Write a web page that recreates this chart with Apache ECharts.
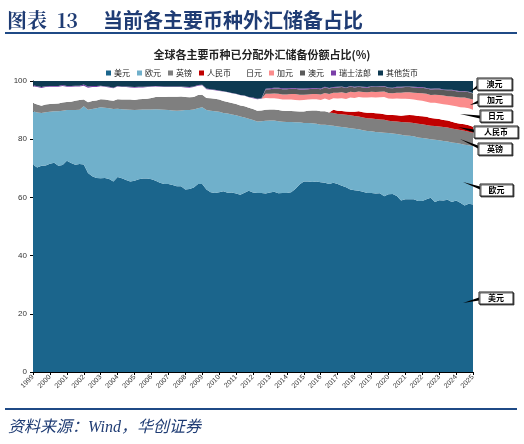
<!DOCTYPE html>
<html>
<head>
<meta charset="utf-8">
<script src="https://cdn.jsdelivr.net/npm/echarts@6/dist/echarts.min.js"></script>
<style>
  html, body { margin: 0; padding: 0; background: #fff; }
  #chart { width: 524px; height: 444px; }
</style>
</head>
<body>
<div id="chart"></div>
<script>
// quarterly shares (%), 1999Q1 - 2025Q1
const years = ["1999", "2000", "2001", "2002", "2003", "2004", "2005", "2006", "2007",
  "2008", "2009", "2010", "2011", "2012", "2013", "2014", "2015", "2016", "2017",
  "2018", "2019", "2020", "2021", "2022", "2023", "2024", "2025"];
const quarters = ["Q1", "Q2", "Q3", "Q4"];

const usd = [
  71.2, 70.3, 70.9, 71.0, 71.6, 71.9, 70.9, 71.1, 72.6, 71.8, 71.2, 71.5,
  71.3, 68.4, 67.3, 66.7, 66.6, 66.7, 66.3, 65.5, 67.0, 66.6, 66.0, 65.5,
  65.7, 66.2, 66.5, 66.5, 66.2, 65.7, 65.0, 64.6, 64.6, 64.3, 63.8, 63.8,
  62.7, 62.9, 63.4, 64.6, 64.6, 62.7, 61.8, 61.5, 61.8, 62.1, 61.6, 61.7,
  61.3, 60.9, 61.6, 62.3, 61.7, 61.5, 61.5, 61.3, 61.7, 61.9, 61.4, 61.5,
  61.5, 61.8, 62.9, 64.4, 65.5, 65.5, 65.3, 65.5, 65.2, 65.0, 64.6, 65.0,
  64.6, 64.0, 63.5, 62.7, 62.5, 62.3, 61.9, 61.5, 61.5, 61.3, 61.4, 60.4,
  61.1, 61.2, 60.5, 58.9, 59.4, 59.4, 59.4, 58.8, 58.8, 59.4, 59.9, 58.4,
  59.0, 58.9, 59.2, 58.4, 58.9, 58.2, 57.2, 57.8, 57.6,
];
const eur = [
  18.4, 18.9, 18.1, 18.3, 17.8, 17.7, 18.7, 18.7, 17.4, 18.2, 18.8, 18.6,
  20.0, 21.7, 23.1, 23.9, 24.4, 24.1, 24.3, 24.9, 23.5, 23.7, 24.2, 24.6,
  24.3, 23.9, 23.7, 23.7, 24.0, 24.6, 25.2, 25.5, 25.4, 25.6, 26.0, 26.1,
  27.3, 27.1, 26.8, 26.0, 26.4, 27.3, 28.0, 28.1, 27.6, 26.9, 27.2, 26.8,
  26.9, 26.9, 25.9, 24.7, 24.9, 24.6, 24.7, 25.0, 24.7, 24.5, 24.8, 24.5,
  24.4, 24.1, 22.9, 21.4, 20.1, 20.1, 20.2, 19.8, 19.8, 20.0, 20.2, 19.6,
  19.8, 20.2, 20.5, 21.1, 21.1, 21.1, 21.2, 21.3, 21.2, 21.2, 21.0, 21.8,
  21.0, 20.8, 21.3, 22.6, 21.9, 21.8, 21.6, 21.8, 21.6, 20.8, 20.1, 21.4,
  20.6, 20.5, 20.0, 20.5, 19.8, 20.2, 20.9, 20.1, 20.0,
];
const gbp = [
  2.8, 2.7, 2.5, 2.6, 2.7, 2.6, 2.7, 2.8, 2.8, 2.9, 3.2, 3.4,
  2.3, 2.6, 2.7, 2.7, 2.7, 2.8, 2.8, 2.8, 3.2, 3.3, 3.4, 3.5,
  3.5, 3.6, 3.6, 3.7, 4.0, 4.2, 4.3, 4.4, 4.6, 4.7, 4.8, 4.8,
  4.5, 4.4, 4.3, 4.6, 4.3, 4.2, 4.3, 4.3, 4.2, 4.1, 4.0, 3.9,
  3.9, 3.8, 3.8, 3.8, 3.8, 3.7, 3.7, 3.8, 3.8, 3.8, 3.8, 3.8,
  3.8, 3.8, 3.8, 3.7, 3.9, 4.2, 4.4, 4.6, 4.6, 4.6, 4.4, 4.4,
  4.3, 4.4, 4.4, 4.4, 4.4, 4.4, 4.4, 4.4, 4.4, 4.4, 4.4, 4.5,
  4.2, 4.2, 4.3, 4.4, 4.5, 4.5, 4.6, 4.7, 4.7, 4.7, 4.6, 4.7,
  4.8, 4.8, 4.8, 4.8, 4.7, 4.8, 4.8, 4.7, 4.6,
];
const rmb = [
  0, 0, 0, 0, 0, 0, 0, 0, 0, 0, 0, 0,
  0, 0, 0, 0, 0, 0, 0, 0, 0, 0, 0, 0,
  0, 0, 0, 0, 0, 0, 0, 0, 0, 0, 0, 0,
  0, 0, 0, 0, 0, 0, 0, 0, 0, 0, 0, 0,
  0, 0, 0, 0, 0, 0, 0, 0, 0, 0, 0, 0,
  0, 0, 0, 0, 0, 0, 0, 0, 0, 0, 0, 1.1,
  1.1, 1.1, 1.1, 1.2, 1.4, 1.8, 1.8, 1.9, 2.0, 2.0, 2.0, 1.9,
  2.0, 2.1, 2.1, 2.2, 2.4, 2.6, 2.6, 2.7, 2.8, 2.8, 2.7, 2.6,
  2.5, 2.4, 2.4, 2.3, 2.2, 2.1, 2.2, 2.2, 2.1,
];
const jpy = [
  5.8, 6.0, 6.1, 6.0, 5.9, 5.8, 5.7, 5.7, 5.2, 5.1, 4.9, 4.6,
  4.8, 5.0, 4.8, 4.6, 4.5, 4.4, 4.4, 4.3, 4.4, 4.3, 4.3, 4.2,
  4.2, 4.1, 4.0, 4.0, 3.8, 3.6, 3.5, 3.4, 3.3, 3.3, 3.3, 3.2,
  3.3, 3.3, 3.4, 3.2, 3.2, 3.0, 2.9, 2.9, 3.0, 3.3, 3.3, 3.4,
  3.4, 3.5, 3.6, 3.6, 3.7, 3.9, 4.0, 4.1, 3.9, 3.9, 3.9, 3.8,
  3.9, 3.9, 3.9, 3.9, 4.0, 3.8, 3.8, 3.8, 3.9, 4.4, 4.3, 4.0,
  4.2, 4.4, 4.3, 4.9, 4.8, 4.9, 5.0, 5.2, 5.3, 5.4, 5.6, 5.9,
  5.7, 5.6, 5.8, 5.8, 5.7, 5.5, 5.4, 5.4, 5.3, 5.2, 5.2, 5.4,
  5.4, 5.4, 5.4, 5.6, 5.7, 5.7, 5.8, 5.8, 5.8,
];
const cad = [
  0, 0, 0, 0, 0, 0, 0, 0, 0, 0, 0, 0,
  0, 0, 0, 0, 0, 0, 0, 0, 0, 0, 0, 0,
  0, 0, 0, 0, 0, 0, 0, 0, 0, 0, 0, 0,
  0, 0, 0, 0, 0, 0, 0, 0, 0, 0, 0, 0,
  0, 0, 0, 0, 0, 0, 0, 1.4, 1.5, 1.6, 1.7, 1.8,
  1.8, 1.9, 2.0, 1.9, 1.8, 1.8, 1.8, 1.8, 1.9, 1.9, 2.0, 1.9,
  2.0, 2.0, 2.0, 2.0, 1.9, 1.9, 1.9, 1.8, 1.9, 1.9, 1.9, 1.9,
  1.9, 1.9, 2.0, 2.1, 2.2, 2.3, 2.4, 2.5, 2.6, 2.7, 2.7, 2.8,
  2.9, 3.0, 3.0, 3.1, 3.2, 3.3, 3.4, 3.4, 3.5,
];
const aud = [
  0, 0, 0, 0, 0, 0, 0, 0, 0, 0, 0, 0,
  0, 0, 0, 0, 0, 0, 0, 0, 0, 0, 0, 0,
  0, 0, 0, 0, 0, 0, 0, 0, 0, 0, 0, 0,
  0, 0, 0, 0, 0, 0, 0, 0, 0, 0, 0, 0,
  0, 0, 0, 0, 0, 0, 0, 1.5, 1.6, 1.7, 1.8, 1.8,
  1.8, 1.8, 1.8, 1.8, 1.8, 1.8, 1.8, 1.8, 1.8, 1.9, 1.9, 1.7,
  1.8, 1.8, 1.8, 1.8, 1.7, 1.6, 1.6, 1.6, 1.7, 1.7, 1.7, 1.7,
  1.7, 1.7, 1.8, 1.8, 1.8, 1.8, 1.8, 1.8, 1.9, 1.8, 1.9, 1.9,
  2.0, 1.9, 2.0, 2.1, 2.0, 2.0, 2.1, 2.1, 2.1,
];
const chf = [
  0.3, 0.3, 0.3, 0.3, 0.3, 0.3, 0.3, 0.3, 0.3, 0.3, 0.3, 0.3,
  0.4, 0.4, 0.4, 0.4, 0.2, 0.2, 0.2, 0.2, 0.2, 0.2, 0.2, 0.2,
  0.2, 0.2, 0.2, 0.2, 0.2, 0.2, 0.2, 0.2, 0.2, 0.2, 0.2, 0.2,
  0.2, 0.2, 0.2, 0.2, 0.2, 0.2, 0.2, 0.2, 0.1, 0.1, 0.1, 0.1,
  0.1, 0.1, 0.1, 0.1, 0.2, 0.2, 0.2, 0.2, 0.3, 0.3, 0.3, 0.3,
  0.3, 0.3, 0.3, 0.3, 0.3, 0.3, 0.3, 0.3, 0.2, 0.2, 0.2, 0.2,
  0.2, 0.2, 0.2, 0.2, 0.2, 0.2, 0.2, 0.2, 0.2, 0.2, 0.2, 0.2,
  0.2, 0.2, 0.2, 0.2, 0.2, 0.2, 0.2, 0.2, 0.2, 0.2, 0.2, 0.2,
  0.2, 0.2, 0.2, 0.2, 0.2, 0.2, 0.2, 0.2, 0.2,
];
const other = [
  1.5, 1.8, 2.1, 1.8, 1.7, 1.7, 1.7, 1.4, 1.7, 1.7, 1.6, 1.6,
  1.2, 1.9, 1.7, 1.7, 1.6, 1.8, 2.0, 2.3, 1.7, 1.9, 1.9, 2.0,
  2.1, 2.0, 2.0, 1.9, 1.8, 1.7, 1.8, 1.9, 1.9, 1.9, 1.9, 1.9,
  2.0, 2.1, 1.9, 1.4, 1.3, 2.6, 2.8, 3.0, 3.3, 3.5, 3.8, 4.1,
  4.4, 4.8, 5.0, 5.5, 5.7, 6.1, 5.9, 2.7, 2.5, 2.3, 2.3, 2.5,
  2.5, 2.4, 2.4, 2.6, 2.6, 2.5, 2.4, 2.4, 2.6, 2.0, 2.4, 2.1,
  2.0, 1.9, 2.2, 1.7, 2.0, 1.8, 2.0, 2.1, 1.8, 1.9, 1.8, 1.7,
  2.2, 2.3, 2.0, 2.0, 1.9, 1.9, 2.0, 2.1, 2.1, 2.4, 2.7, 2.6,
  2.6, 2.9, 3.0, 3.0, 3.3, 3.5, 3.4, 3.7, 4.1,
];

const seriesList = [
  { name: "美元", data: usd, color: "#1b658c" },
  { name: "欧元", data: eur, color: "#70b0cb" },
  { name: "英镑", data: gbp, color: "#7f7f7f" },
  { name: "人民币", data: rmb, color: "#c00000" },
  { name: "日元", data: jpy, color: "#ffffff" },
  { name: "加元", data: cad, color: "#fb8c8c" },
  { name: "澳元", data: aud, color: "#5a5a5a" },
  { name: "瑞士法郎", data: chf, color: "#7b3fa8" },
  { name: "其他货币", data: other, color: "#0e3a52" },
];

// categories: one per quarter, label shows the year at Q1
let categories = [];
years.forEach((y) => quarters.forEach((q) => categories.push(y + q)));
categories = categories.slice(0, usd.length);

// callout boxes on the right side
const callouts = [
  { text: "澳元", x: 477, y: 78, w: 35, h: 12, base: [477, 87], tip: [470, 92] },
  { text: "加元", x: 478, y: 94, w: 34, h: 12, base: [478, 102], tip: [470, 105] },
  { text: "日元", x: 480, y: 110, w: 32, h: 12, base: [480, 117], tip: [460, 114] },
  { text: "人民币", x: 474, y: 126, w: 44, h: 12, base: [474, 131], tip: [458, 127] },
  { text: "英镑", x: 478, y: 143, w: 34, h: 12, base: [478, 147], tip: [460, 139] },
  { text: "欧元", x: 480, y: 184, w: 33, h: 12, base: [480, 188], tip: [463, 182] },
  { text: "美元", x: 479, y: 292, w: 34, h: 12, base: [479, 299], tip: [463, 303] },
];

const myChart = echarts.init(document.getElementById("chart"));

const graphics = [
  {
    type: "text",
    left: 7,
    top: 10,
    style: {
      text: "图表  13",
      font: 'bold 20px "Noto Serif CJK SC", "Noto Sans CJK SC", serif',
      fill: "#1f3c74",
    },
  },
  {
    type: "text",
    left: 103,
    top: 10,
    style: {
      text: "当前各主要币种外汇储备占比",
      font: 'bold 20px "Noto Sans CJK SC"',
      fill: "#1f3c74",
    },
  },
  {
    type: "rect",
    shape: { x: 5, y: 32, width: 512, height: 2 },
    style: { fill: "#1f4a86" },
  },
  {
    type: "rect",
    shape: { x: 5, y: 408, width: 512, height: 2 },
    style: { fill: "#1f4a86" },
  },
  {
    type: "text",
    left: 8,
    top: 420,
    style: {
      text: "资料来源：Wind，华创证券",
      font: 'italic 16px "Liberation Serif", "Noto Sans CJK SC"',
      fill: "#1f3c74",
    },
  },
];

callouts.forEach((c) => {
  graphics.push({
    type: "polygon",
    z: 100,
    shape: {
      points: [c.tip, [c.base[0], c.base[1] - 1.5], [c.base[0], c.base[1] + 1.5]],
    },
    style: { fill: "#000" },
  });
  graphics.push({
    type: "rect",
    z: 100,
    shape: { x: c.x, y: c.y, width: c.w, height: c.h },
    style: {
      fill: "#fff",
      stroke: "#222",
      lineWidth: 1,
      shadowColor: "rgba(0,0,0,0.6)",
      shadowOffsetX: 1,
      shadowOffsetY: 1,
    },
  });
  graphics.push({
    type: "text",
    z: 101,
    x: c.x + c.w / 2,
    y: c.y + c.h / 2,
    style: {
      text: c.text,
      font: 'bold 8px "Noto Sans CJK SC"',
      fill: "#000",
      align: "center",
      verticalAlign: "middle",
    },
  });
});

const option = {
  backgroundColor: "#fff",
  animation: false,
  title: {
    text: "全球各主要币种已分配外汇储备份额占比(%)",
    left: "center",
    top: 44,
    textStyle: {
      fontSize: 11,
      fontWeight: "bold",
      color: "#222",
      fontFamily: "Noto Sans CJK SC",
    },
  },
  legend: {
    top: 64,
    left: "center",
    itemWidth: 5,
    itemHeight: 5,
    itemGap: 7,
    icon: "rect",
    textStyle: { fontSize: 8, color: "#222", fontFamily: "Noto Sans CJK SC", padding: [0, 0, 0, -2] },
    data: seriesList.map((s) => s.name),
  },
  grid: { left: 33, right: 51, top: 81, bottom: 72 },
  xAxis: {
    type: "category",
    boundaryGap: false,
    data: categories,
    axisLine: { lineStyle: { color: "#000", width: 1 } },
    axisTick: { interval: 3, length: 3, lineStyle: { color: "#000" } },
    axisLabel: {
      interval: 3,
      rotate: 45,
      fontSize: 7,
      margin: 4,
      color: "#333",
      formatter: (v) => v.slice(0, 4),
    },
    splitLine: { show: false },
  },
  yAxis: {
    type: "value",
    min: 0,
    max: 100,
    interval: 20,
    axisLine: { show: true, lineStyle: { color: "#000", width: 1 } },
    axisTick: { show: true, length: 3, lineStyle: { color: "#000" } },
    axisLabel: { fontSize: 8, color: "#333", margin: 6 },
    splitLine: { show: false },
  },
  graphic: graphics,
  series: seriesList.map((s) => ({
    name: s.name,
    type: "line",
    stack: "total",
    data: s.data,
    symbol: "none",
    color: s.color,
    lineStyle: { width: 0 },
    areaStyle: { color: s.color, opacity: 1 },
  })),
};

myChart.setOption(option);
</script>
</body>
</html>
